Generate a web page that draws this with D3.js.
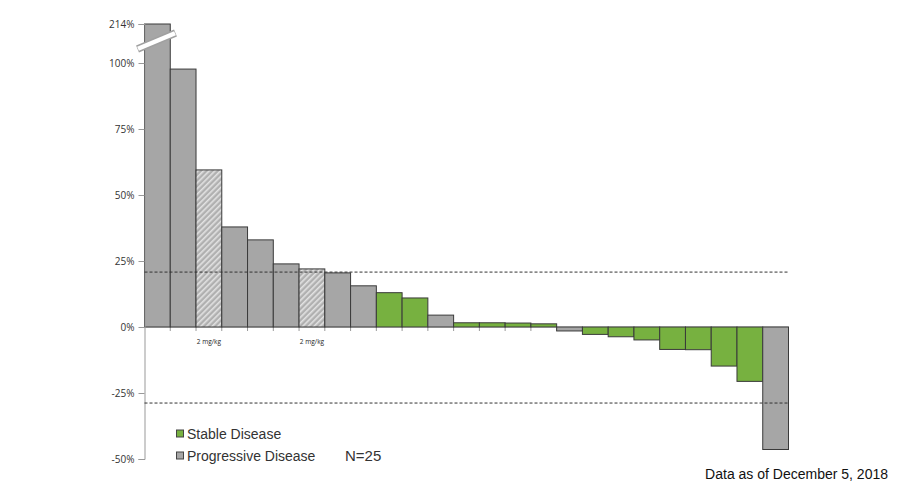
<!DOCTYPE html>
<html><head><meta charset="utf-8">
<script src="https://cdn.jsdelivr.net/npm/d3@7"></script>
<style>body{margin:0;background:#fff}svg{display:block}</style>
</head><body>
<svg id="c" width="900" height="489"></svg>
<script>
const patients = d3.range(1, 26).map(String);
const changes = [214, 97.7, 59.5, 37.9, 33, 23.9, 22, 20.5, 15.6, 13, 11, 4.5, 1.6, 1.6, 1.5, 1.2, -1.5, -2.8, -3.7, -4.9, -8.5, -8.6, -14.8, -20.6, -46.4];
const responses = ["PD","PD","PDh","PD","PD","PD","PDh","PD","PD","SD","SD","PD","SD","SD","SD","SD","PD","SD","SD","SD","SD","SD","SD","SD","PD"];
const doseLabels = [{i:2, text:"2 mg/kg"}, {i:6, text:"2 mg/kg"}];
const yTicks = [-50, -25, 0, 25, 50, 75, 100, 214];
const thresholds = [20.8, -28.8];
const legendItems = [{key:"SD", label:"Stable Disease"}, {key:"PD", label:"Progressive Disease"}];
const nLabel = "N=25";
const note = "Data as of December 5, 2018";

const svg = d3.select("#c");
const defs = svg.append("defs");
const pat = defs.append("pattern").attr("id","hatch").attr("patternUnits","userSpaceOnUse")
  .attr("width",4).attr("height",4).attr("patternTransform","rotate(45)");
pat.append("rect").attr("width",4).attr("height",4).attr("fill","#b0b0b0");
pat.append("rect").attr("x",0).attr("width",1.6).attr("height",4).attr("fill","#e2e2e2");

const x = d3.scaleBand().domain(patients).range([144.5, 788.5]).padding(0);
const y = d3.scaleLinear().domain([-50, 100, 214]).range([459, 63, 24]);
const fills = {PD:"#a6a6a6", SD:"#77b140", PDh:"url(#hatch)"};

// x axis (zero line)
svg.append("line").attr("x1",x.range()[0]).attr("x2",x.range()[1]).attr("y1",y(0)).attr("y2",y(0))
  .attr("stroke","#c8c8c8").attr("stroke-width",1.5);
svg.append("g").selectAll("line").data(patients.slice(1)).join("line")
  .attr("x1",d=>x(d)).attr("x2",d=>x(d)).attr("y1",y(0)).attr("y2",y(0)+4)
  .attr("stroke","#999").attr("stroke-width",1);

// bars
svg.append("g").selectAll("rect").data(changes).join("rect")
  .attr("x",(d,i)=>x(patients[i]))
  .attr("width",x.bandwidth())
  .attr("y",d=>y(Math.max(0,d)))
  .attr("height",d=>Math.abs(y(d)-y(0)))
  .attr("fill",(d,i)=>fills[responses[i]])
  .attr("stroke","#3a3a3a").attr("stroke-width",1);

// y axis
const yAxis = d3.axisLeft(y).tickValues(yTicks).tickFormat(d=>d+"%").tickSize(6).tickPadding(4);
const ya = svg.append("g").attr("transform",`translate(${x.range()[0]},0)`).call(yAxis);
ya.select(".domain").attr("stroke","#999");
ya.selectAll(".tick line").attr("stroke","#999");
ya.selectAll("text").attr("fill","#333").attr("font-family","'Open Sans', sans-serif").attr("font-size",10);

// axis break on first bar
const b0 = x(patients[0]);
svg.append("line").attr("x1",b0-7).attr("y1",49).attr("x2",b0+31).attr("y2",33)
  .attr("stroke","#a0a0a0").attr("stroke-width",7.5);
svg.append("line").attr("x1",b0-6.5).attr("y1",48.8).attr("x2",b0+30.5).attr("y2",33.2)
  .attr("stroke","#fff").attr("stroke-width",4.5);

// threshold lines
svg.append("g").selectAll("line").data(thresholds).join("line")
  .attr("x1",x.range()[0]).attr("x2",x.range()[1]).attr("y1",d=>y(d)).attr("y2",d=>y(d))
  .attr("stroke","#333").attr("stroke-width",1).attr("stroke-dasharray","3,2");

// dose labels
svg.append("g").selectAll("text").data(doseLabels).join("text")
  .attr("x",d=>x(patients[d.i])+x.bandwidth()/2).attr("y",y(0)+17)
  .attr("text-anchor","middle").attr("font-family","'Open Sans', sans-serif").attr("font-size",6.5)
  .attr("fill","#222").text(d=>d.text);

// legend
const lg = svg.append("g").attr("font-family","'Liberation Sans', Arial, sans-serif");
legendItems.forEach((it,i)=>{
  const yy = 434 + i*22;
  lg.append("rect").attr("x",176.5).attr("y",yy-4).attr("width",7).attr("height",7)
    .attr("fill",fills[it.key]).attr("stroke","#444").attr("stroke-width",1);
  lg.append("text").attr("x",187).attr("y",yy+5).attr("font-size",14).attr("fill","#333").text(it.label);
});
lg.append("text").attr("x",345).attr("y",461).attr("font-size",15).attr("fill","#333").text(nLabel);
svg.append("text").attr("x",888).attr("y",479).attr("text-anchor","end")
  .attr("font-family","'Liberation Sans', Arial, sans-serif").attr("font-size",14).attr("fill","#111").text(note);
</script>
</body></html>
